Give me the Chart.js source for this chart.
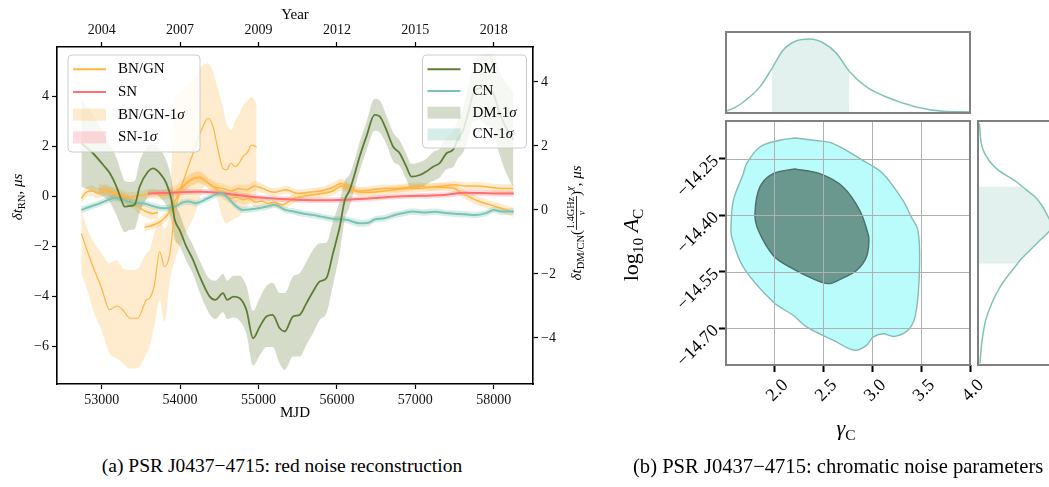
<!DOCTYPE html>
<html lang="en">
<head>
<meta charset="UTF-8">
<title>PSR J0437-4715 noise</title>
<script src="https://cdn.jsdelivr.net/npm/chart.js"></script>
<style>
  html, body { margin: 0; padding: 0; background: #fff; }
  body { width: 1049px; height: 487px; overflow: hidden; position: relative; }
  canvas { position: absolute; }
  .cap { position: absolute; top: 455px; font-family: 'Liberation Serif', 'Times New Roman', serif;
         font-size: 19.5px; color: #000; white-space: nowrap; }
</style>
</head>
<body>
<canvas id="rn" width="600" height="440" style="left:0;top:0"></canvas>
<canvas id="margG" width="300" height="100" style="left:700px;top:20px"></canvas>
<canvas id="corner" width="400" height="360" style="left:600px;top:100px"></canvas>
<canvas id="margA" width="120" height="270" style="left:960px;top:110px"></canvas>
<div class="cap" style="left:282px;transform:translateX(-50%)">(a) PSR J0437−4715: red noise reconstruction</div>
<div class="cap" style="left:633px;font-size:20.6px">(b) PSR J0437−4715: chromatic noise parameters</div>

<script>
// ---- left panel: ticks ----
const mjdTicks = [53000, 54000, 55000, 56000, 57000, 58000];
const yearLabels = ['2004', '2007', '2009', '2012', '2015', '2018'];
const rnTicks = [4, 2, 0, -2, -4, -6];
const dmTicks = [4, 2, 0, -2, -4];

// BN/GN realisations (left axis, us)
const bn1X = [52740, 52800, 52890, 53000, 53100, 53190, 53270, 53360, 53460, 53570, 53610, 53670, 53740, 53800, 53870, 53930, 54000, 54080, 54165, 54230, 54290, 54355, 54420, 54480, 54545, 54590, 54650, 54700, 54760, 54800, 54860, 54910, 54975];
const bn1Y = [-1.5, -2.05, -2.83, -3.7, -4.55, -4.4, -4.56, -4.89, -4.89, -4.16, -4.09, -3.6, -2.23, -2.83, -2.29, -0.69, 0.2, 0.95, 1.71, 2.3, 2.77, 3.11, 2.77, 1.9, 1.11, 1.04, 1.31, 1.17, 1.35, 1.57, 1.75, 2.04, 1.95];
const bn1Lo = [-3.1, -3.6, -4.56, -5.4, -6.29, -6.5, -6.69, -6.9, -6.89, -6.3, -6.03, -5.2, -4.16, -5.03, -3.36, -2.6, -2.0, -1.4, -0.9, -0.3, 0.3, 0.6, 0.5, -0.2, -0.9, -1.1, -1.0, -0.9, -0.8, -0.6, -0.4, -0.2, -0.2];
const bn1Hi = [-0.5, -1.2, -1.8, -2.3, -2.7, -2.56, -2.9, -2.96, -2.9, -2.3, -2.16, -1.5, -0.96, -1.3, -0.43, 3.9, 4.1, 4.4, 4.64, 5.0, 5.24, 5.3, 4.97, 4.3, 3.57, 2.9, 2.64, 3.0, 3.32, 3.6, 3.8, 3.97, 3.7];

const bn2X = [52740, 52800, 52880, 52960, 53050, 53150, 53250, 53350, 53450, 53550, 53650, 53750, 53850, 53950, 54050, 54150, 54250, 54350, 54450, 54550, 54650, 54750, 54850, 54950, 55050, 55200, 55350, 55500, 55650, 55800, 55950, 56050, 56150, 56300, 56450, 56600, 56750, 56900, 57050, 57200, 57350, 57500, 57650, 57800, 57950, 58100, 58250];
const bn2Y = [-0.1, 0.15, 0.2, 0.1, 0.25, 0.15, 0.05, -0.05, 0.0, 0.05, 0.1, 0.05, 0.1, 0.2, 0.45, 0.65, 0.75, 0.55, 0.35, 0.3, 0.2, 0.3, 0.25, 0.4, 0.3, 0.15, 0.25, 0.1, 0.15, 0.2, 0.35, 0.5, 0.35, 0.2, 0.25, 0.3, 0.3, 0.35, 0.4, 0.35, 0.4, 0.45, 0.4, 0.4, 0.35, 0.3, 0.3];
const bn2Err = [0.2, 0.2, 0.22, 0.2, 0.22, 0.2, 0.2, 0.2, 0.18, 0.2, 0.2, 0.2, 0.22, 0.24, 0.25, 0.24, 0.22, 0.2, 0.2, 0.2, 0.18, 0.18, 0.18, 0.2, 0.18, 0.16, 0.16, 0.16, 0.16, 0.17, 0.18, 0.2, 0.18, 0.16, 0.16, 0.16, 0.16, 0.16, 0.15, 0.15, 0.15, 0.15, 0.15, 0.16, 0.16, 0.17, 0.18];

const bn3X = [52960, 53050, 53150, 53250, 53350, 53450, 53550, 53650, 53720];
const bn3Y = [0.3, 0.2, 0.1, -0.05, -0.2, -0.4, -0.6, -0.7, -0.65];
const bn3Err = [0.2, 0.2, 0.2, 0.22, 0.22, 0.24, 0.24, 0.25, 0.25];

const bn4X = [53545, 53620, 53700, 53780, 53850, 53920, 54000, 54080, 54160, 54240, 54320, 54400, 54480, 54560, 54640, 54720, 54800, 54880, 54960, 55040, 55120, 55200, 55300, 55450, 55600, 55800, 55950, 56050, 56150, 56300, 56450, 56600, 56750, 56900, 57050, 57200, 57350, 57500, 57600, 57700, 57800, 57900, 58000, 58100, 58250];
const bn4Y = [-1.25, -1.2, -1.1, -0.95, -0.7, -0.3, 0.2, 0.5, 0.7, 0.75, 0.6, 0.4, 0.25, 0.05, -0.1, -0.05, -0.15, -0.1, -0.25, -0.2, -0.3, -0.25, -0.35, -0.1, 0.0, 0.1, 0.2, 0.4, 0.3, 0.15, 0.15, 0.2, 0.25, 0.3, 0.3, 0.35, 0.35, 0.3, 0.1, -0.05, -0.2, -0.3, -0.4, -0.5, -0.65];
const bn4Err = [0.15, 0.15, 0.16, 0.18, 0.2, 0.22, 0.24, 0.24, 0.24, 0.24, 0.22, 0.2, 0.2, 0.2, 0.2, 0.2, 0.2, 0.2, 0.2, 0.2, 0.2, 0.2, 0.2, 0.18, 0.17, 0.17, 0.18, 0.2, 0.18, 0.16, 0.16, 0.16, 0.16, 0.16, 0.16, 0.16, 0.16, 0.16, 0.17, 0.18, 0.18, 0.18, 0.18, 0.18, 0.2];

// SN (left axis)
const snX = [53590, 53800, 54000, 54250, 54500, 54700, 54900, 55100, 55300, 55570, 55800, 56030, 56300, 56500, 56710, 56950, 57200, 57400, 57620, 57850, 58050, 58255];
const snY = [0.1, 0.12, 0.15, 0.17, 0.12, 0.05, -0.03, -0.08, -0.12, -0.16, -0.17, -0.16, -0.12, -0.08, -0.03, 0.0, 0.02, 0.05, 0.13, 0.12, 0.1, 0.1];
const snErr = [0.13, 0.12, 0.12, 0.11, 0.11, 0.11, 0.11, 0.11, 0.11, 0.11, 0.11, 0.11, 0.11, 0.11, 0.11, 0.11, 0.11, 0.11, 0.12, 0.12, 0.12, 0.13];

// CN and DM (right axis)
const cnX = [52740, 52850, 52950, 53050, 53157, 53250, 53350, 53450, 53520, 53650, 53750, 53840, 53950, 54020, 54110, 54200, 54300, 54400, 54520, 54600, 54700, 54800, 54900, 55000, 55100, 55210, 55340, 55450, 55580, 55700, 55800, 55950, 56120, 56290, 56400, 56480, 56600, 56750, 56850, 56970, 57100, 57250, 57390, 57500, 57650, 57760, 57900, 58000, 58100, 58255];
const cnY = [0.0, 0.1, 0.18, 0.28, 0.37, 0.35, 0.25, 0.2, 0.21, 0.12, 0.06, 0.05, 0.12, 0.22, 0.26, 0.21, 0.3, 0.42, 0.52, 0.4, 0.15, 0.0, 0.02, 0.05, 0.1, 0.16, 0.0, -0.05, -0.12, -0.16, -0.21, -0.28, -0.31, -0.42, -0.4, -0.3, -0.26, -0.15, -0.1, -0.05, -0.08, -0.06, -0.1, -0.12, -0.14, -0.16, -0.1, 0.0, -0.05, -0.05];
const cnErr = [0.11, 0.1, 0.1, 0.1, 0.1, 0.1, 0.1, 0.1, 0.1, 0.1, 0.1, 0.1, 0.1, 0.1, 0.1, 0.1, 0.1, 0.1, 0.11, 0.11, 0.1, 0.1, 0.1, 0.1, 0.1, 0.1, 0.1, 0.1, 0.1, 0.1, 0.1, 0.1, 0.1, 0.11, 0.11, 0.1, 0.1, 0.1, 0.1, 0.1, 0.1, 0.1, 0.1, 0.1, 0.1, 0.1, 0.1, 0.1, 0.11, 0.11];

const dmX = [52741, 52889, 53017, 53102, 53188, 53251, 53293, 53350, 53420, 53485, 53591, 53654, 53740, 53825, 53890, 53931, 53995, 54080, 54165, 54250, 54378, 54450, 54547, 54600, 54680, 54760, 54846, 54930, 55015, 55100, 55180, 55270, 55334, 55440, 55525, 55610, 55695, 55780, 55866, 55950, 56036, 56100, 56160, 56205, 56290, 56375, 56480, 56545, 56630, 56715, 56800, 56885, 56950, 57057, 57140, 57225, 57310, 57397, 57480, 57540, 57610, 57680, 57740, 57820, 57900, 57990, 58075, 58150, 58250];
const dmY = [2.08, 1.77, 1.41, 1.15, 0.73, 0.31, 0.1, 0.12, 0.16, 0.73, 1.2, 1.3, 1.15, 0.83, 0.31, -0.31, -0.63, -1.15, -1.56, -2.08, -2.71, -2.81, -2.6, -2.81, -2.71, -2.76, -3.13, -4.01, -3.65, -3.33, -3.28, -3.7, -3.8, -3.33, -3.28, -2.92, -2.55, -2.24, -2.13, -1.35, -0.52, 0.31, 0.6, 0.94, 1.67, 2.29, 2.97, 2.92, 2.5, 1.98, 1.77, 1.35, 1.04, 1.09, 1.2, 1.35, 1.46, 1.77, 1.88, 2.2, 2.5, 3.1, 3.65, 3.8, 3.75, 3.65, 3.02, 2.6, 2.19];
const dmErr = [1.35, 1.2, 1.0, 0.9, 0.9, 0.85, 0.8, 0.75, 0.75, 0.8, 0.8, 0.75, 0.75, 0.7, 0.65, 0.6, 0.5, 0.45, 0.45, 0.5, 0.55, 0.6, 0.6, 0.6, 0.65, 0.7, 0.75, 0.85, 0.9, 0.95, 1.0, 1.1, 1.2, 1.25, 1.3, 1.3, 1.3, 1.2, 1.1, 1.0, 0.8, 0.6, 0.5, 0.45, 0.45, 0.45, 0.5, 0.5, 0.45, 0.45, 0.4, 0.4, 0.4, 0.4, 0.4, 0.45, 0.45, 0.5, 0.55, 0.6, 0.7, 0.8, 0.9, 1.0, 1.1, 1.2, 1.3, 1.4, 1.5];

// ---- right panel: posterior ----
const gammaTicks = [2.0, 2.5, 3.0, 3.5, 4.0];
const logATicks = [-14.25, -14.40, -14.55, -14.70];
const outerG = [2.209, 2.056, 1.852, 1.716, 1.682, 1.58, 1.556, 1.563, 1.682, 1.988, 2.192, 2.329, 2.6, 2.821, 2.941, 3.008, 3.11, 3.23, 3.383, 3.451, 3.485, 3.467, 3.4, 3.314, 3.11, 2.906, 2.6, 2.396, 2.209];
const outerA = [-14.195, -14.201, -14.219, -14.263, -14.29, -14.361, -14.432, -14.458, -14.538, -14.631, -14.666, -14.697, -14.732, -14.759, -14.746, -14.724, -14.715, -14.722, -14.701, -14.653, -14.529, -14.44, -14.405, -14.361, -14.29, -14.255, -14.21, -14.201, -14.195];
const innerG = [2.209, 1.988, 1.852, 1.801, 1.835, 1.988, 2.158, 2.396, 2.549, 2.668, 2.839, 2.941, 2.967, 2.957, 2.872, 2.702, 2.464, 2.209];
const innerA = [-14.277, -14.29, -14.325, -14.396, -14.44, -14.507, -14.538, -14.569, -14.582, -14.571, -14.547, -14.511, -14.467, -14.449, -14.387, -14.325, -14.29, -14.277];
const gammaGrid = [1.505, 1.6, 1.682, 1.852, 1.974, 2.09, 2.227, 2.362, 2.498, 2.635, 2.767, 2.941, 3.145, 3.451, 3.722, 4.0];
const gammaDens = [0.023, 0.077, 0.149, 0.353, 0.6, 0.851, 0.977, 1.0, 0.95, 0.806, 0.56, 0.353, 0.217, 0.081, 0.023, 0.014];
const gamma1sig = [1.974, 2.767];
const logAGrid = [-14.157, -14.228, -14.277, -14.312, -14.324, -14.356, -14.405, -14.43, -14.467, -14.52, -14.529, -14.591, -14.67, -14.741, -14.794];
const logADens = [0.018, 0.072, 0.254, 0.525, 0.6, 0.796, 0.954, 1.0, 0.841, 0.57, 0.535, 0.299, 0.118, 0.05, 0.027];
const logA1sig = [-14.529, -14.324];

const SERIF = "'Liberation Serif', 'Times New Roman', serif";
Chart.defaults.font.family = SERIF;
Chart.defaults.color = '#111';
Chart.defaults.animation = false;

const C_BN = '#ffb543', C_BN_BAND = 'rgba(255,190,90,0.3)';
const C_SN = '#ff6f6f', C_SN_BAND = 'rgba(255,110,130,0.25)';
const C_DM = '#5e7d34', C_DM_BAND = 'rgba(100,130,60,0.28)';
const C_CN = '#7bc3b5', C_CN_BAND = 'rgba(123,195,181,0.3)';

const pts = (xs, ys) => xs.map((x, i) => ({x: x, y: ys[i]}));
const minus = s => String(s).replace('-', '\u2212');

// draws a row of text pieces (italic, sub/superscript, fraction) centred on (cx, cy)
function rich(ctx, cx, cy, size, angle, segs) {
  ctx.save();
  ctx.translate(cx, cy);
  ctx.rotate(angle);
  ctx.fillStyle = '#000';
  ctx.textBaseline = 'alphabetic';
  const fontOf = (it, fs) => (it ? 'italic ' : '') + fs + 'px ' + SERIF;
  const widths = segs.map(s => {
    const fs = size * (s.sc || 1);
    if (s.frac) {
      ctx.font = fontOf(false, fs);
      return Math.max(ctx.measureText(s.frac[0]).width, ctx.measureText(s.frac[1]).width) + 2;
    }
    ctx.font = fontOf(s.it, fs);
    return ctx.measureText(s.t).width;
  });
  let x = -widths.reduce((a, b) => a + b, 0) / 2;
  const base = size * 0.33;
  segs.forEach((s, i) => {
    const fs = size * (s.sc || 1);
    if (s.frac) {
      const lineY = base - size * 0.3;
      const mid = x + widths[i] / 2;
      ctx.textAlign = 'center';
      ctx.font = fontOf(false, fs);
      ctx.fillText(s.frac[0], mid, lineY - 2);
      ctx.font = fontOf(true, fs);
      ctx.fillText(s.frac[1], mid, lineY + fs * 0.72 + 1);
      ctx.fillRect(x, lineY - 0.4, widths[i], 0.8);
    } else {
      ctx.textAlign = 'left';
      ctx.font = fontOf(s.it, fs);
      ctx.fillText(s.t, x, base + (s.dy || 0) * size);
    }
    x += widths[i];
  });
  ctx.restore();
}

function drawLegend(ctx, box, items, step) {
  ctx.save();
  ctx.beginPath();
  ctx.roundRect(box.x, box.y, box.w, box.h, 4);
  ctx.fillStyle = 'rgba(255,255,255,0.8)';
  ctx.fill();
  ctx.strokeStyle = '#cccccc';
  ctx.lineWidth = 1;
  ctx.stroke();
  items.forEach((it, i) => {
    const y = box.y + 14.3 + i * step;
    if (it.patch) {
      ctx.fillStyle = it.color;
      ctx.fillRect(box.x + 5, y - 6, 33, 12);
    } else {
      ctx.strokeStyle = it.color;
      ctx.lineWidth = 2;
      ctx.beginPath();
      ctx.moveTo(box.x + 5, y);
      ctx.lineTo(box.x + 38, y);
      ctx.stroke();
    }
    ctx.fillStyle = '#000';
    ctx.textBaseline = 'middle';
    ctx.textAlign = 'left';
    ctx.font = '15px ' + SERIF;
    ctx.fillText(it.label, box.x + 50, y);
    if (it.sigma) {
      const w = ctx.measureText(it.label).width;
      ctx.font = 'italic 15px ' + SERIF;
      ctx.fillText('\u03c3', box.x + 50 + w, y);
    }
  });
  ctx.restore();
}

// ---- left chart datasets ----
const rnSets = [];
function addLine(xs, ys, color, width, axis) {
  rnSets.push({data: pts(xs, ys), borderColor: color, borderWidth: width, pointRadius: 0,
               fill: false, yAxisID: axis, order: 1, cubicInterpolationMode: 'monotone'});
}
function addBand(xs, lo, hi, color, axis) {
  const i = rnSets.length;
  rnSets.push({data: pts(xs, lo), borderWidth: 0, borderColor: 'transparent', pointRadius: 0,
               fill: false, yAxisID: axis, order: 3, cubicInterpolationMode: 'monotone'});
  rnSets.push({data: pts(xs, hi), borderWidth: 0, borderColor: 'transparent', pointRadius: 0,
               fill: {target: i}, backgroundColor: color, yAxisID: axis, order: 3,
               cubicInterpolationMode: 'monotone'});
}
const sub = (ys, es) => ys.map((v, i) => v - es[i]);
const add = (ys, es) => ys.map((v, i) => v + es[i]);

addLine(dmX, dmY, C_DM, 1.8, 'yR');
addLine(cnX, cnY, C_CN, 2, 'yR');
addLine(snX, snY, C_SN, 2, 'y');
addLine(bn1X, bn1Y, C_BN, 1.2, 'y');
addLine(bn2X, bn2Y, C_BN, 1.4, 'y');
addLine(bn3X, bn3Y, C_BN, 1.4, 'y');
addLine(bn4X, bn4Y, C_BN, 1.4, 'y');
addBand(dmX, sub(dmY, dmErr), add(dmY, dmErr), C_DM_BAND, 'yR');
addBand(cnX, sub(cnY, cnErr), add(cnY, cnErr), C_CN_BAND, 'yR');
addBand(snX, sub(snY, snErr), add(snY, snErr), C_SN_BAND, 'y');
addBand(bn1X, bn1Lo, bn1Hi, C_BN_BAND, 'y');
addBand(bn2X, sub(bn2Y, bn2Err), add(bn2Y, bn2Err), C_BN_BAND, 'y');
addBand(bn3X, sub(bn3Y, bn3Err), add(bn3Y, bn3Err), C_BN_BAND, 'y');
addBand(bn4X, sub(bn4Y, bn4Err), add(bn4Y, bn4Err), C_BN_BAND, 'y');

const axisStyle = (ticks, fmt) => ({
  afterBuildTicks: s => { s.ticks = ticks.map(v => ({value: v})); },
  ticks: {autoSkip: false, font: {size: 14}, padding: 3, callback: fmt},
  grid: {drawOnChartArea: false, tickLength: 5, tickColor: '#000', tickWidth: 1.2},
  border: {display: true, color: '#000', width: 1.6}
});

const rnDecor = {
  id: 'rnDecor',
  afterDraw(chart) {
    const ctx = chart.ctx;
    ctx.save();
    ctx.fillStyle = '#000';
    ctx.font = '15px ' + SERIF;
    ctx.textAlign = 'center';
    ctx.textBaseline = 'middle';
    ctx.fillText('Year', 295, 15);
    ctx.fillText('MJD', 295, 413);
    ctx.restore();
    rich(ctx, 17, 197, 15, -Math.PI / 2, [
      {t: '\u03b4t', it: true}, {t: 'RN', sc: 0.7, dy: 0.22}, {t: ', '}, {t: '\u03bcs', it: true}]);
    rich(ctx, 576, 223, 15, -Math.PI / 2, [
      {t: '\u03b4t', it: true}, {t: 'DM/CN', sc: 0.7, dy: 0.22}, {t: '('},
      {frac: ['1.4GHz', '\u03bd'], sc: 0.68}, {t: ')'}, {t: '\u03c7', it: true, sc: 0.7, dy: -0.5},
      {t: ', '}, {t: '\u03bcs', it: true}]);
    drawLegend(ctx, {x: 68, y: 55, w: 132, h: 97}, [
      {label: 'BN/GN', color: C_BN},
      {label: 'SN', color: C_SN},
      {label: 'BN/GN-1', sigma: true, patch: true, color: C_BN_BAND},
      {label: 'SN-1', sigma: true, patch: true, color: C_SN_BAND}], 22.7);
    drawLegend(ctx, {x: 422.5, y: 55, w: 104, h: 93}, [
      {label: 'DM', color: C_DM},
      {label: 'CN', color: C_CN},
      {label: 'DM-1', sigma: true, patch: true, color: C_DM_BAND},
      {label: 'CN-1', sigma: true, patch: true, color: C_CN_BAND}], 21.7);
  }
};

new Chart(document.getElementById('rn'), {
  type: 'line',
  data: {datasets: rnSets},
  options: {
    responsive: false,
    devicePixelRatio: 1,
    layout: {padding: 0},
    plugins: {legend: {display: false}, tooltip: {enabled: false}},
    scales: {
      x: Object.assign({type: 'linear', position: 'bottom', min: 52430, max: 58500,
                        afterFit: s => { s.height = 56; }}, axisStyle(mjdTicks, v => String(v))),
      xTop: Object.assign({type: 'linear', position: 'top', min: 52430, max: 58500,
                           afterFit: s => { s.height = 47; }},
                          axisStyle(mjdTicks, (v, i) => yearLabels[i])),
      y: Object.assign({type: 'linear', position: 'left', min: -7.52, max: 5.96,
                        afterFit: s => { s.width = 57; }}, axisStyle(rnTicks, v => minus(v))),
      yR: Object.assign({type: 'linear', position: 'right', min: -5.44, max: 5.09,
                         afterFit: s => { s.width = 67; }}, axisStyle(dmTicks, v => minus(v)))
    }
  },
  plugins: [rnDecor]
});

// ---- right panel ----
const greyBox = {
  id: 'greyBox',
  afterDatasetsDraw(chart, args, opts) {
    const {ctx, chartArea: a} = chart;
    ctx.save();
    if (opts.grid) {
      ctx.strokeStyle = '#b0b0b0';
      ctx.lineWidth = 1;
      const xs = chart.scales.x, ys = chart.scales.y;
      xs.ticks.forEach(t => {
        const p = Math.round(xs.getPixelForValue(t.value)) + 0.5;
        ctx.beginPath(); ctx.moveTo(p, a.top); ctx.lineTo(p, a.bottom); ctx.stroke();
      });
      ys.ticks.forEach(t => {
        const p = Math.round(ys.getPixelForValue(t.value)) + 0.5;
        ctx.beginPath(); ctx.moveTo(a.left, p); ctx.lineTo(a.right, p); ctx.stroke();
      });
    }
    ctx.strokeStyle = '#808080';
    ctx.lineWidth = 2;
    ctx.strokeRect(a.left, a.top, a.right - a.left, a.bottom - a.top);
    ctx.restore();
  }
};

const hidden = (min, max) => ({type: 'linear', display: false, min: min, max: max});
const C_MARG = '#7fc4b6', C_MARG_FILL = '#e3f1ee';

new Chart(document.getElementById('margG'), {
  type: 'line',
  data: {datasets: [{
    data: pts(gammaGrid, gammaDens), borderColor: C_MARG, borderWidth: 1.5, pointRadius: 0,
    cubicInterpolationMode: 'monotone', fill: 'origin', backgroundColor: 'rgba(0,0,0,0)',
    segment: {backgroundColor: c => (c.p0.parsed.x >= gamma1sig[0] - 1e-6 && c.p1.parsed.x <= gamma1sig[1] + 1e-6) ? C_MARG_FILL : 'rgba(0,0,0,0)'}
  }]},
  options: {
    responsive: false, devicePixelRatio: 1,
    layout: {padding: {left: 26, right: 30, top: 12, bottom: 7}},
    plugins: {legend: {display: false}, tooltip: {enabled: false}, greyBox: {grid: false}},
    scales: {x: hidden(1.505, 4.0), y: hidden(0, 1.095)}
  },
  plugins: [greyBox]
});

new Chart(document.getElementById('margA'), {
  type: 'line',
  data: {datasets: [{
    data: pts(logADens, logAGrid), borderColor: C_MARG, borderWidth: 1.5, pointRadius: 0,
    cubicInterpolationMode: 'monotone', fill: 'origin', backgroundColor: 'rgba(0,0,0,0)',
    segment: {backgroundColor: c => (Math.min(c.p0.parsed.y, c.p1.parsed.y) >= logA1sig[0] - 1e-6 && Math.max(c.p0.parsed.y, c.p1.parsed.y) <= logA1sig[1] + 1e-6) ? C_MARG_FILL : 'rgba(0,0,0,0)'}
  }]},
  options: {
    indexAxis: 'y',
    responsive: false, devicePixelRatio: 1,
    layout: {padding: {left: 18, right: 21, top: 11, bottom: 15}},
    plugins: {legend: {display: false}, tooltip: {enabled: false}, greyBox: {grid: false}},
    scales: {x: hidden(0, 1.1), y: hidden(-14.798, -14.15)}
  },
  plugins: [greyBox]
});

const cornerTitles = {
  id: 'cornerTitles',
  afterDraw(chart) {
    const ctx = chart.ctx;
    rich(ctx, 246, 328, 22, 0, [{t: '\u03b3', it: true}, {t: 'C', sc: 0.7, dy: 0.22}]);
    rich(ctx, 31, 145, 22, -Math.PI / 2, [{t: 'log'}, {t: '10', sc: 0.7, dy: 0.22}, {t: ' '},
      {t: 'A', it: true}, {t: 'C', sc: 0.7, dy: 0.22}]);
  }
};

const cornerAxis = (ticks, fmt, extra, offset) => Object.assign({
  type: 'linear',
  afterBuildTicks: s => { s.ticks = ticks.map(v => ({value: v})); },
  ticks: {autoSkip: false, font: {size: 18}, color: '#000', minRotation: 45, maxRotation: 45,
          labelOffset: offset, callback: fmt},
  grid: {drawOnChartArea: false, tickLength: 7, tickColor: '#000', tickWidth: 2},
  border: {display: false}
}, extra);

new Chart(document.getElementById('corner'), {
  type: 'line',
  data: {datasets: [
    {data: pts(innerG, innerA), borderColor: '#4b6f67', borderWidth: 1.4, backgroundColor: '#6a978e',
     pointRadius: 0, fill: 'shape', tension: 0.35, order: 1},
    {data: pts(outerG, outerA), borderColor: '#85bbb5', borderWidth: 1.4, backgroundColor: '#b9fcfb',
     pointRadius: 0, fill: 'shape', tension: 0.35, order: 2}
  ]},
  options: {
    responsive: false, devicePixelRatio: 1,
    layout: {padding: {left: 0, right: 30, top: 21, bottom: 0}},
    plugins: {legend: {display: false}, tooltip: {enabled: false}, greyBox: {grid: true}},
    scales: {
      x: cornerAxis(gammaTicks, v => v.toFixed(1),
                    {position: 'bottom', min: 1.505, max: 4.0, afterFit: s => { s.height = 95; }}, 11),
      y: cornerAxis(logATicks, v => minus(v.toFixed(2)),
                    {position: 'left', min: -14.798, max: -14.15, afterFit: s => { s.width = 126; }}, 0)
    }
  },
  plugins: [greyBox, cornerTitles]
});
</script>
</body>
</html>
